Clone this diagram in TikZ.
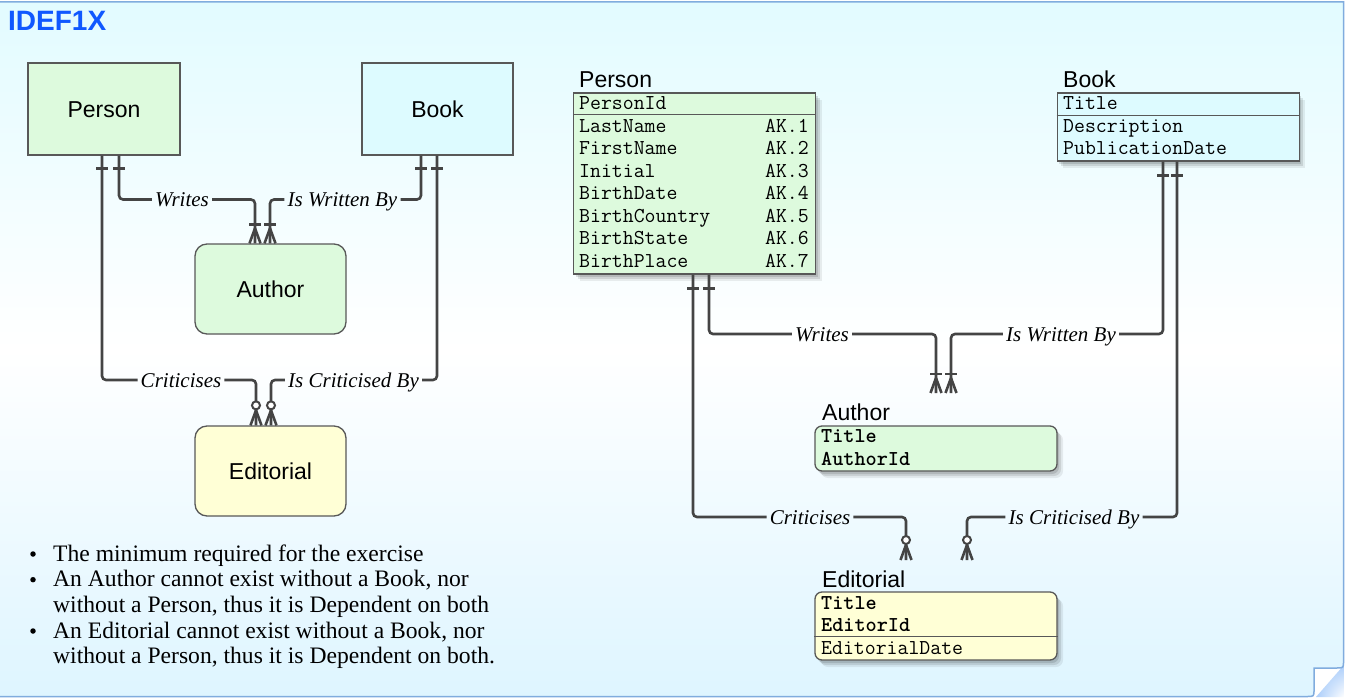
\documentclass[tikz,border=0pt]{standalone}
\usepackage{fontspec}
\setmainfont{Liberation Serif}
\newfontfamily\arialf{Liberation Sans}
\usetikzlibrary{shadows,calc,shadings}
\definecolor{lineg}{RGB}{68,68,68}
\definecolor{boxg}{RGB}{88,88,88}
\definecolor{egreen}{RGB}{221,250,221}
\definecolor{ecyan}{RGB}{221,251,255}
\definecolor{eyellow}{RGB}{255,255,214}
\definecolor{titleblue}{RGB}{16,88,255}
\definecolor{pageb}{RGB}{128,172,222}
\definecolor{bgA}{RGB}{226,251,255}
\definecolor{bgC}{RGB}{222,245,255}
\definecolor{curlb}{RGB}{172,206,250}
\newcommand\onebar[2]{\draw[mk] ($(#1)+(-6,#2)$) -- ($(#1)+(6,#2)$);}
\newcommand\crowbar[1]{%
  \draw[mk] ($(#1)+(-6,-19)$) -- ($(#1)+(6,-19)$);
  \draw[mk] ($(#1)+(0,-15)$) -- ($(#1)+(-5.5,0)$);
  \draw[mk] ($(#1)+(0,-15)$) -- ($(#1)+(5.5,0)$);}
\newcommand\crowring[1]{%
  \draw[mk] ($(#1)+(0,-15)$) -- ($(#1)+(-5.5,0)$);
  \draw[mk] ($(#1)+(0,-15)$) -- ($(#1)+(5.5,0)$);
  \draw[mk, line width=2pt, fill=white] ($(#1)+(0,-20)$) circle[radius=4];}
\begin{document}
\begin{tikzpicture}[x=1pt,y=-1pt,
  conn/.style={draw=lineg, line width=2.6pt, rounded corners=4pt},
  mk/.style={draw=lineg, line width=2.6pt},
  rlab/.style={font=\itshape\fontsize{21}{21}\selectfont, inner xsep=3pt, inner ysep=0pt, text height=14pt, text depth=0pt},
  ebox/.style={draw=boxg, line width=1.3pt, minimum width=152pt, minimum height=92pt, inner sep=0pt,
    font=\arialf\fontsize{23}{23}\selectfont, text height=16.5pt, text depth=0pt},
  tshadow/.style={drop shadow={shadow xshift=2pt,shadow yshift=-3pt,opacity=0.12,fill=black},
    drop shadow={shadow xshift=4pt,shadow yshift=-5pt,opacity=0.10,fill=black},
    drop shadow={shadow xshift=6pt,shadow yshift=-7pt,opacity=0.07,fill=black}},
  tbox/.style={draw=boxg, line width=1.3pt, inner sep=0pt, tshadow},
  tname/.style={anchor=base west, inner sep=0pt, font=\arialf\fontsize{23}{23}\selectfont},
  mono/.style={anchor=base west, inner sep=0pt, font=\ttfamily\fontsize{21.2}{21.2}\selectfont},
  monob/.style={mono, font=\ttfamily\bfseries\fontsize{21.2}{21.2}\selectfont},
  monor/.style={anchor=base east, inner sep=0pt, font=\ttfamily\fontsize{21.2}{21.2}\selectfont},
  btext/.style={anchor=base west, inner sep=0pt, font=\fontsize{23.6}{25}\selectfont},
  bdot/.style={circle, fill=black, inner sep=0pt, minimum size=5.5pt},
  sepl/.style={draw=boxg, line width=1.4pt}
]
\useasboundingbox (0,0) rectangle (1345,698);
\fill[white] (0,0) rectangle (1345,698);
% background page
\shade[top color=bgA, bottom color=bgC, middle color=white]
  (-2,2) -- (1343.5,2) -- (1343.5,661) .. controls (1343.5,668) .. (1336.5,668) -- (1314,668)
  -- (1314,689.5) .. controls (1314,696.5) .. (1307,696.5) -- (-2,696.5) -- cycle;
\shade[upper left=curlb, upper right=curlb, lower left=curlb, lower right=white]
  (1316,697) -- (1344,665) -- (1344,697) -- cycle;
\draw[pageb, line width=1.5pt]
  (-2,2) -- (1343.5,2) -- (1343.5,661) .. controls (1343.5,668) .. (1336.5,668) -- (1314,668)
  -- (1314,689.5) .. controls (1314,696.5) .. (1307,696.5) -- (-2,696.5);

\node[anchor=base west, inner sep=0pt, font=\arialf\bfseries\fontsize{28}{28}\selectfont, text=titleblue] (title) at (8,31) {IDEF1X};

% ---------- left diagram ----------
\node[ebox, fill=egreen] (lp) at (104,109) {Person};
\node[ebox, fill=ecyan, minimum width=151pt] (lb) at (437.5,109) {Book};
\node[ebox, fill=egreen, minimum width=151pt, minimum height=90pt, rounded corners=12pt] (la) at (270.5,289) {Author};
\node[ebox, fill=eyellow, minimum width=151pt, minimum height=90pt, rounded corners=12pt] (le) at (270.5,471) {Editorial};

\coordinate (p1) at ([xshift=15pt]lp.south);
\coordinate (p2) at ([xshift=-2pt]lp.south);
\coordinate (b1) at ([xshift=-16.5pt]lb.south);
\coordinate (b2) at ([xshift=-0.5pt]lb.south);
\coordinate (a1) at ([xshift=-15.5pt]la.north);
\coordinate (a2) at ([xshift=-0.5pt]la.north);
\coordinate (e1) at ([xshift=-14.5pt]le.north);
\coordinate (e2) at ([xshift=0.5pt]le.north);

\node[rlab] (lw1) at (182,199.5) {Writes};
\node[rlab] (lwb1) at (342.5,199.5) {Is Written By};
\node[rlab] (lc1) at (181,380) {Criticises};
\node[rlab] (lcb1) at (353.5,380) {Is Criticised By};

\draw[conn] (p1) |- (lw1.west);
\draw[conn] (lw1.east) -| (a1);
\draw[conn] (b1) |- (lwb1.east);
\draw[conn] (lwb1.west) -| (a2);
\draw[conn] (p2) |- (lc1.west);
\draw[conn] (lc1.east) -| (e1);
\draw[conn] (b2) |- (lcb1.east);
\draw[conn] (lcb1.west) -| (e2);

\onebar{p1}{13} \onebar{p2}{13} \onebar{b1}{13} \onebar{b2}{13}
\crowbar{a1} \crowbar{a2}
\crowring{e1} \crowring{e2}

% bullets
\node[bdot] (bu1) at (33,554) {};
\node[bdot] (bu2) at (33,579.7) {};
\node[bdot] (bu4) at (33,631) {};
\node[btext] (t1) at (53,561) {The minimum required for the exercise};
\node[btext] (t2) at (53,586.7) {An Author cannot exist without a Book, nor};
\node[btext] (t3) at (53,612.3) {without a Person, thus it is Dependent on both};
\node[btext] (t4) at (53,638) {An Editorial cannot exist without a Book, nor};
\node[btext] (t5) at (53,663.7) {without a Person, thus it is Dependent on both.};

% ---------- right diagram ----------
% Person table
\node[tname] (np) at (579,88) {Person};
\node[tbox, fill=egreen, minimum width=242pt, minimum height=181pt] (tp) at (694.5,183.5) {};
\draw[sepl] ([yshift=-22pt]tp.north west) -- ([yshift=-22pt]tp.north east);
\node[mono] (pk0) at (579,110) {PersonId};
\node[mono] (pa1) at (579,132.6) {LastName};
\node[mono] (pa2) at (579,155) {FirstName};
\node[mono] (pa3) at (579,177.4) {Initial};
\node[mono] (pa4) at (579,199.8) {BirthDate};
\node[mono] (pa5) at (579,222.2) {BirthCountry};
\node[mono] (pa6) at (579,244.6) {BirthState};
\node[mono] (pa7) at (579,267) {BirthPlace};
\node[monor] (ak1) at (809,132.6) {AK.1};
\node[monor] (ak2) at (809,155) {AK.2};
\node[monor] (ak3) at (809,177.4) {AK.3};
\node[monor] (ak4) at (809,199.8) {AK.4};
\node[monor] (ak5) at (809,222.2) {AK.5};
\node[monor] (ak6) at (809,244.6) {AK.6};
\node[monor] (ak7) at (809,267) {AK.7};

% Book table
\node[tname] (nb) at (1063,88) {Book};
\node[tbox, fill=ecyan, minimum width=242pt, minimum height=68pt] (tb) at (1178.3,127) {};
\draw[sepl] ([yshift=-23pt]tb.north west) -- ([yshift=-23pt]tb.north east);
\node[mono] (bk0) at (1063,110) {Title};
\node[mono] (ba1) at (1063,132.6) {Description};
\node[mono] (ba2) at (1063,155) {PublicationDate};

% Author table
\node[tname] (na) at (822,420) {Author};
\node[tbox, fill=egreen, minimum width=242pt, minimum height=45pt, rounded corners=7pt] (ta) at (936,448.5) {};
\node[monob] (ak0) at (821,442.6) {Title};
\node[monob] (akx) at (821,465) {AuthorId};

% Editorial table
\node[tname] (ne) at (822,587) {Editorial};
\node[tbox, fill=eyellow, minimum width=242pt, minimum height=68pt, rounded corners=7pt] (te) at (936,626) {};
\draw[sepl] ([yshift=-45pt]te.north west) -- ([yshift=-45pt]te.north east);
\node[monob] (ek0) at (821,609) {Title};
\node[monob] (ek1) at (821,631.4) {EditorId};
\node[mono] (ea1) at (821,654) {EditorialDate};

% connectors
\coordinate (q1) at ([xshift=14.5pt]tp.south);
\coordinate (q2) at ([xshift=-1.5pt]tp.south);
\coordinate (c1) at ([xshift=-15.3pt]tb.south);
\coordinate (c2) at ([xshift=-1.3pt]tb.south);
\coordinate (r1) at (936,393);
\coordinate (r2) at (951,393);
\coordinate (s1) at (906,560);
\coordinate (s2) at (967,560);

\node[rlab] (lw2) at (822,334) {Writes};
\node[rlab] (lwb2) at (1061,334) {Is Written By};
\node[rlab] (lc2) at (810,517) {Criticises};
\node[rlab] (lcb2) at (1074,517) {Is Criticised By};

\draw[conn] (q1) |- (lw2.west);
\draw[conn] (lw2.east) -| (r1);
\draw[conn] (c1) |- (lwb2.east);
\draw[conn] (lwb2.west) -| (r2);
\draw[conn] (q2) |- (lc2.west);
\draw[conn] (lc2.east) -| (s1);
\draw[conn] (c2) |- (lcb2.east);
\draw[conn] (lcb2.west) -| (s2);

\onebar{q1}{14} \onebar{q2}{14} \onebar{c1}{14} \onebar{c2}{14}
\crowbar{r1} \crowbar{r2}
\crowring{s1} \crowring{s2}
\end{tikzpicture}
\end{document}
